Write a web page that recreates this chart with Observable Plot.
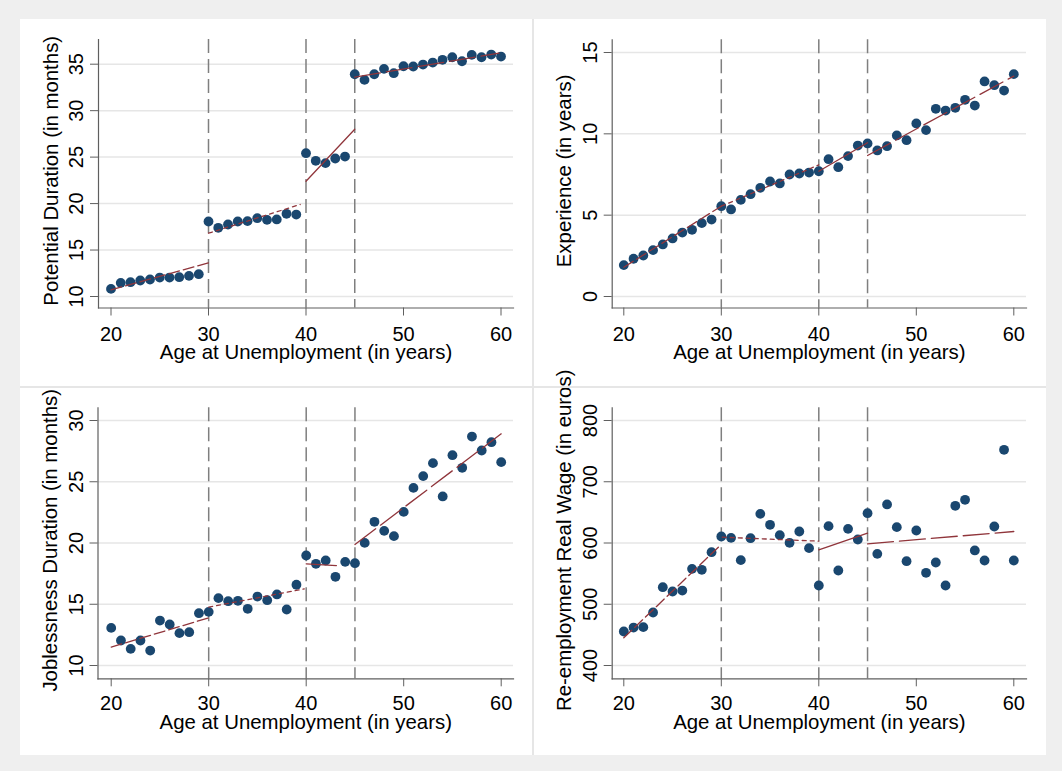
<!DOCTYPE html>
<html>
<head>
<meta charset="utf-8">
<script src="https://cdn.jsdelivr.net/npm/d3@7"></script>
<script src="https://cdn.jsdelivr.net/npm/@observablehq/plot@0.6"></script>
<style>
  html, body { margin: 0; padding: 0; background: #efefef; }
  #fig { position: relative; width: 1062px; height: 771px; background: #efefef; font-family: "Liberation Sans", Arial, sans-serif; overflow: hidden; }
  #sheet { position: absolute; left: 20px; top: 19px; width: 1026px; height: 736px; background: #ffffff; }
  .panel { position: absolute; }
  .sep { position: absolute; background: #e6e6e6; }
</style>
</head>
<body>
<div id="fig"><div id="sheet"></div></div>
<script>
// ---------------- data ----------------
const ages = [20,21,22,23,24,25,26,27,28,29,30,31,32,33,34,35,36,37,38,39,40,41,42,43,44,45,46,47,48,49,50,51,52,53,54,55,56,57,58,59,60];

const potentialDuration = [10.82,11.47,11.54,11.72,11.83,12.04,12.04,12.08,12.22,12.40,
  18.07,17.39,17.75,18.07,18.11,18.43,18.25,18.29,18.90,18.82,
  25.42,24.60,24.35,24.85,25.06,
  33.92,33.31,33.92,34.50,34.03,34.78,34.75,34.96,35.18,35.47,35.75,35.32,36.00,35.75,36.04,35.82];

const experience = [1.93,2.32,2.52,2.85,3.20,3.57,3.93,4.10,4.51,4.73,
  5.55,5.35,5.94,6.29,6.68,7.07,6.95,7.50,7.56,7.62,
  7.70,8.44,7.95,8.63,9.28,
  9.41,8.98,9.24,9.90,9.61,10.64,10.23,11.54,11.43,11.60,12.09,11.74,13.22,12.99,12.66,13.67];

const joblessDuration = [13.07,12.04,11.36,12.04,11.22,13.67,13.35,12.64,12.72,14.27,
  14.38,15.50,15.25,15.28,14.63,15.63,15.33,15.80,14.57,16.59,
  18.98,18.30,18.57,17.24,18.46,
  18.35,20.01,21.73,20.99,20.56,22.54,24.50,25.46,26.52,23.80,27.17,26.14,28.69,27.55,28.23,26.60];

const reemploymentWage = [455.5,462,462.6,486.5,527.9,520.8,522.4,557.8,556.2,585.0,
  610.6,608.4,572.0,607.9,647.6,629.7,612.8,600.3,618.8,591.6,
  530.6,627.5,555.1,623.1,605.7,
  648.7,582.3,662.9,625.9,570.3,620.4,551.3,568.2,530.6,660.7,670.5,587.8,571.4,626.9,752.1,571.4];

// fitted segments: [ageStart, valueStart, ageEnd, valueEnd]
const durationFit   = [[20,10.72,30,13.62],[30,16.81,39.4,19.9],[40,22.4,45,28.0],[45,33.6,59.8,36.2]];
const experienceFit = [[20,1.80,30,5.55],[30,5.55,40,8.09],[40,7.70,45,9.45],[45,8.67,60,13.55]];
const joblessFit    = [[20,11.50,30,13.89],[30,14.76,39.8,16.26],[40,18.30,43.1,18.16],[45,19.88,60,28.91]];
const wageFit       = [[20,445.2,29.7,593.2],[30.1,609.5,40,603.0],[40,588.8,45,616.1],[45,598.6,60,618.8]];

const cutoffAges = [30, 40, 45];
const xTicks = [20, 30, 40, 50, 60];
const durationTicks = [10, 15, 20, 25, 30, 35];
const experienceTicks = [0, 5, 10, 15];
const joblessTicks = [10, 15, 20, 25, 30];
const wageTicks = [400, 500, 600, 700, 800];

const xTitle = "Age at Unemployment (in years)";
const titles = ["Potential Duration (in months)", "Experience (in years)", "Joblessness Duration (in months)", "Re-employment Real Wage (in euros)"];

// ---------------- style ----------------
const NAVY = "#1a476f";
const MAROON = "#90353b";
const REF = "#7f7f7f";
const GRID = "#e6e6e6";
const AXIS = "#5f5f5f";
const FONT = "\"Liberation Sans\", Arial, sans-serif";
const FS = 20;      // tick labels
const TFS = 20.4;   // axis titles
const fitDash = ["11,4", "4,4", null, "26,6"];

// ---------------- layout per panel ----------------
const panels = [
  {values: potentialDuration, fit: durationFit, ticks: durationTicks, domainY: [10, 35], title: titles[0],
   left: 0, top: 0, width: 512, height: 367, mL: 78, mT: 20, mB: 78.5, mR: 19, xr: [90.5, 480.5], yr: [277, 44.7], tp: 10.5, tdy: 51},
  {values: experience, fit: experienceFit, ticks: experienceTicks, domainY: [0, 15], title: titles[1],
   left: 513, top: 0, width: 513, height: 367, mL: 78.7, mT: 20.3, mB: 78.5, mR: 20, xr: [90.3, 480.3], yr: [277, 33], tp: 10.5, tdy: 51},
  {values: joblessDuration, fit: joblessFit, ticks: joblessTicks, domainY: [10, 30], title: titles[2],
   left: 0, top: 369, width: 512, height: 367, mL: 77.5, mT: 19.3, mB: 76.7, mR: 19, xr: [90.7, 480.7], yr: [277, 32], tp: 8.5, tdy: 50},
  {values: reemploymentWage, fit: wageFit, ticks: wageTicks, domainY: [400, 800], title: titles[3],
   left: 513, top: 369, width: 513, height: 367, mL: 78.7, mT: 19.3, mB: 76.7, mR: 20, xr: [90.3, 480.3], yr: [277, 32], tp: 8.5, tdy: 50}
];

const sheet = document.getElementById("sheet");

for (const p of panels) {
  const rows = ages.map((a, i) => ({age: a, value: p.values[i]}));
  const fitMarks = p.fit.map((s, i) => Plot.line([[s[0], s[1]], [s[2], s[3]]], {
    stroke: MAROON, strokeWidth: 1.3, strokeDasharray: fitDash[i] || undefined
  }));
  const chart = Plot.plot({
    width: p.width,
    height: p.height,
    marginLeft: p.mL, marginTop: p.mT, marginBottom: p.mB, marginRight: p.mR,
    style: {fontFamily: FONT, fontSize: FS + "px", color: "#000", background: "transparent", overflow: "visible"},
    x: {domain: [20, 60], range: p.xr},
    y: {domain: p.domainY, range: p.yr},
    marks: [
      Plot.gridY(p.ticks, {stroke: GRID, strokeOpacity: 1, strokeWidth: 1.5}),
      Plot.ruleX(cutoffAges, {stroke: REF, strokeWidth: 1.5, strokeDasharray: "14,6"}),
      Plot.frame({anchor: "left", stroke: AXIS, strokeWidth: 1.2}),
      Plot.frame({anchor: "bottom", stroke: AXIS, strokeWidth: 1.2}),
      Plot.axisY(p.ticks, {tickRotate: -90, tickSize: 8, tickPadding: 7.5, stroke: AXIS, fill: "#000", fontSize: FS, label: null}),
      Plot.axisX(xTicks, {tickSize: 8, tickPadding: p.tp, stroke: AXIS, fill: "#000", fontSize: FS, label: null}),
      Plot.dot(rows, {x: "age", y: "value", r: 4.9, fill: NAVY, stroke: null}),
      ...fitMarks,
      Plot.text([xTitle], {frameAnchor: "bottom", textAnchor: "middle", lineAnchor: "bottom", dy: p.tdy, fontSize: TFS, fill: "#000"}),
      Plot.text([p.title], {frameAnchor: "left", textAnchor: "middle", rotate: -90, lineAnchor: "bottom", dx: -41, dy: -3, fontSize: TFS, fill: "#000"})
    ]
  });
  const holder = document.createElement("div");
  holder.className = "panel";
  holder.style.left = p.left + "px";
  holder.style.top = p.top + "px";
  holder.appendChild(chart);
  sheet.appendChild(holder);
}

// panel separators
const vsep = document.createElement("div");
vsep.className = "sep";
Object.assign(vsep.style, {left: "512px", top: "0px", width: "1.5px", height: "736px"});
sheet.appendChild(vsep);
const hsep = document.createElement("div");
hsep.className = "sep";
Object.assign(hsep.style, {left: "0px", top: "367px", width: "1026px", height: "1.5px"});
sheet.appendChild(hsep);
</script>
</body>
</html>
